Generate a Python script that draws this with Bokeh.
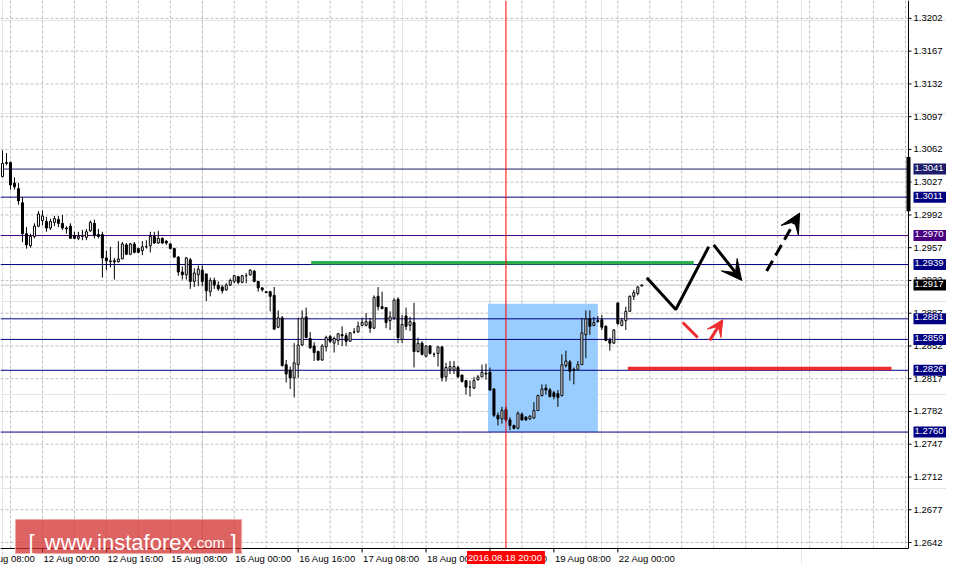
import math
from bokeh.plotting import figure
from bokeh.models import Range1d, Label, Arrow, VeeHead, ColumnDataSource
from bokeh.embed import file_html
from bokeh.resources import INLINE

# ---------------- data: GBPUSD H1 candles (bar index = hour bar) ----------------
open_ = [1.3033, 1.3047, 1.3048, 1.3026, 1.3020, 1.3005, 1.2972, 1.2959, 1.2969, 1.2980,
         1.2986, 1.2985, 1.2978, 1.2984, 1.2987, 1.2983, 1.2978, 1.2980, 1.2970, 1.2967,
         1.2969, 1.2968, 1.2975, 1.2983, 1.2971, 1.2971, 1.2946, 1.2942, 1.2943, 1.2942,
         1.2945, 1.2960, 1.2950, 1.2961, 1.2956, 1.2954, 1.2958, 1.2959, 1.2969, 1.2962,
         1.2967, 1.2964, 1.2961, 1.2956, 1.2947, 1.2931, 1.2928, 1.2944, 1.2921, 1.2928,
         1.2933, 1.2929, 1.2910, 1.2922, 1.2917, 1.2915, 1.2912, 1.2917, 1.2921, 1.2926,
         1.2920, 1.2927, 1.2928, 1.2932, 1.2921, 1.2914, 1.2910, 1.2910, 1.2906, 1.2872,
         1.2882, 1.2832, 1.2826, 1.2818, 1.2832, 1.2853, 1.2883, 1.2860, 1.2852, 1.2846,
         1.2837, 1.2851, 1.2862, 1.2855, 1.2858, 1.2864, 1.2863, 1.2857, 1.2867, 1.2867,
         1.2874, 1.2874, 1.2878, 1.2871, 1.2905, 1.2894, 1.2893, 1.2879, 1.2882, 1.2902,
         1.2859, 1.2884, 1.2874, 1.2877, 1.2846, 1.2855, 1.2841, 1.2852, 1.2843, 1.2844,
         1.2851, 1.2819, 1.2827, 1.2826, 1.2829, 1.2821, 1.2815, 1.2808, 1.2807, 1.2816,
         1.2819, 1.2822, 1.2824, 1.2806, 1.2778, 1.2774, 1.2784, 1.2773, 1.2767, 1.2764,
         1.2779, 1.2776, 1.2774, 1.2775, 1.2783, 1.2799, 1.2807, 1.2805, 1.2802, 1.2801,
         1.2799, 1.2831, 1.2835, 1.2827, 1.2827, 1.2832, 1.2864, 1.2881, 1.2874, 1.2879,
         1.2880, 1.2873, 1.2858, 1.2855, 1.2898, 1.2874, 1.2879, 1.2889, 1.2905, 1.2908,
         1.2916]
high = [1.3061, 1.3058, 1.3049, 1.3032, 1.3026, 1.3011, 1.2979, 1.2972, 1.2983, 1.2996,
        1.2997, 1.2990, 1.2988, 1.2991, 1.2991, 1.2992, 1.2980, 1.2983, 1.2974, 1.2974,
        1.2976, 1.2977, 1.2986, 1.2987, 1.2977, 1.2974, 1.2954, 1.2958, 1.2946, 1.2964,
        1.2963, 1.2962, 1.2962, 1.2963, 1.2957, 1.2964, 1.2965, 1.2974, 1.2974, 1.2975,
        1.2968, 1.2965, 1.2962, 1.2957, 1.2948, 1.2937, 1.2947, 1.2946, 1.2935, 1.2938,
        1.2938, 1.2929, 1.2925, 1.2925, 1.2921, 1.2917, 1.2919, 1.2924, 1.2928, 1.2927,
        1.2928, 1.2930, 1.2934, 1.2933, 1.2921, 1.2915, 1.2910, 1.2911, 1.2915, 1.2890,
        1.2884, 1.2837, 1.2830, 1.2855, 1.2882, 1.2890, 1.2893, 1.2867, 1.2856, 1.2847,
        1.2854, 1.2863, 1.2864, 1.2862, 1.2866, 1.2873, 1.2866, 1.2867, 1.2871, 1.2878,
        1.2882, 1.2887, 1.2882, 1.2906, 1.2915, 1.2910, 1.2893, 1.2889, 1.2903, 1.2904,
        1.2885, 1.2893, 1.2883, 1.2898, 1.2861, 1.2857, 1.2853, 1.2853, 1.2845, 1.2852,
        1.2852, 1.2834, 1.2836, 1.2836, 1.2831, 1.2821, 1.2815, 1.2815, 1.2819, 1.2821,
        1.2832, 1.2833, 1.2829, 1.2807, 1.2781, 1.2787, 1.2787, 1.2776, 1.2768, 1.2782,
        1.2781, 1.2777, 1.2778, 1.2792, 1.2800, 1.2811, 1.2811, 1.2807, 1.2804, 1.2805,
        1.2843, 1.2847, 1.2837, 1.2829, 1.2836, 1.2882, 1.2890, 1.2890, 1.2883, 1.2884,
        1.2885, 1.2874, 1.2861, 1.2870, 1.2898, 1.2882, 1.2894, 1.2906, 1.2912, 1.2916,
        1.2918]
low = [1.3032, 1.3045, 1.3019, 1.3019, 1.3003, 1.2963, 1.2956, 1.2957, 1.2967, 1.2979,
       1.2981, 1.2974, 1.2976, 1.2980, 1.2979, 1.2976, 1.2972, 1.2967, 1.2966, 1.2965,
       1.2965, 1.2965, 1.2974, 1.2967, 1.2967, 1.2925, 1.2933, 1.2936, 1.2923, 1.2941,
       1.2945, 1.2949, 1.2949, 1.2951, 1.2951, 1.2949, 1.2956, 1.2952, 1.2961, 1.2961,
       1.2961, 1.2960, 1.2955, 1.2946, 1.2927, 1.2923, 1.2923, 1.2913, 1.2915, 1.2916,
       1.2916, 1.2900, 1.2905, 1.2913, 1.2911, 1.2908, 1.2911, 1.2916, 1.2919, 1.2918,
       1.2919, 1.2919, 1.2927, 1.2920, 1.2910, 1.2910, 1.2909, 1.2889, 1.2869, 1.2871,
       1.2830, 1.2813, 1.2806, 1.2797, 1.2818, 1.2852, 1.2860, 1.2849, 1.2836, 1.2836,
       1.2836, 1.2846, 1.2855, 1.2845, 1.2853, 1.2852, 1.2852, 1.2857, 1.2865, 1.2866,
       1.2873, 1.2873, 1.2866, 1.2870, 1.2890, 1.2891, 1.2871, 1.2869, 1.2880, 1.2855,
       1.2855, 1.2869, 1.2868, 1.2829, 1.2845, 1.2842, 1.2840, 1.2843, 1.2840, 1.2830,
       1.2814, 1.2814, 1.2822, 1.2822, 1.2818, 1.2813, 1.2800, 1.2798, 1.2806, 1.2815,
       1.2819, 1.2816, 1.2804, 1.2776, 1.2767, 1.2769, 1.2771, 1.2762, 1.2763, 1.2763,
       1.2772, 1.2772, 1.2773, 1.2774, 1.2783, 1.2798, 1.2800, 1.2797, 1.2795, 1.2787,
       1.2798, 1.2829, 1.2815, 1.2811, 1.2826, 1.2832, 1.2839, 1.2864, 1.2873, 1.2877,
       1.2869, 1.2857, 1.2847, 1.2854, 1.2874, 1.2873, 1.2869, 1.2889, 1.2901, 1.2906,
       1.2916]
close = [1.3047, 1.3048, 1.3024, 1.3022, 1.3007, 1.2972, 1.2960, 1.2969, 1.2980, 1.2993,
         1.2991, 1.2978, 1.2985, 1.2988, 1.2983, 1.2978, 1.2977, 1.2967, 1.2967, 1.2969,
         1.2969, 1.2974, 1.2984, 1.2970, 1.2969, 1.2946, 1.2943, 1.2943, 1.2942, 1.2945,
         1.2961, 1.2950, 1.2961, 1.2952, 1.2952, 1.2958, 1.2958, 1.2969, 1.2962, 1.2967,
         1.2962, 1.2962, 1.2956, 1.2947, 1.2931, 1.2928, 1.2946, 1.2921, 1.2930, 1.2934,
         1.2921, 1.2911, 1.2922, 1.2917, 1.2913, 1.2911, 1.2917, 1.2922, 1.2927, 1.2920,
         1.2927, 1.2927, 1.2933, 1.2921, 1.2914, 1.2912, 1.2909, 1.2905, 1.2870, 1.2882,
         1.2831, 1.2822, 1.2818, 1.2834, 1.2853, 1.2882, 1.2861, 1.2850, 1.2845, 1.2837,
         1.2852, 1.2861, 1.2857, 1.2860, 1.2865, 1.2863, 1.2857, 1.2866, 1.2867, 1.2873,
         1.2877, 1.2878, 1.2871, 1.2904, 1.2894, 1.2892, 1.2877, 1.2883, 1.2901, 1.2861,
         1.2875, 1.2873, 1.2878, 1.2846, 1.2855, 1.2843, 1.2852, 1.2844, 1.2843, 1.2851,
         1.2818, 1.2829, 1.2830, 1.2830, 1.2819, 1.2814, 1.2808, 1.2808, 1.2815, 1.2819,
         1.2824, 1.2823, 1.2805, 1.2778, 1.2774, 1.2783, 1.2773, 1.2767, 1.2764, 1.2780,
         1.2773, 1.2773, 1.2777, 1.2783, 1.2799, 1.2806, 1.2805, 1.2798, 1.2798, 1.2797,
         1.2832, 1.2836, 1.2825, 1.2826, 1.2832, 1.2866, 1.2881, 1.2873, 1.2877, 1.2878,
         1.2872, 1.2858, 1.2855, 1.2869, 1.2876, 1.2879, 1.2889, 1.2905, 1.2909, 1.2915,
         1.2917]

# time axis labels (bar index -> label)
time_tick_bars = [-6, 10, 26, 42, 58, 74, 90, 106, 122, 138, 154]
time_tick_labels = ["11 Aug 08:00", "12 Aug 00:00", "12 Aug 16:00", "15 Aug 08:00",
                    "16 Aug 00:00", "16 Aug 16:00", "17 Aug 08:00", "18 Aug 00:00",
                    "18 Aug 16:00", "19 Aug 08:00", "22 Aug 00:00"]
price_ticks = [1.2642, 1.2677, 1.2712, 1.2747, 1.2782, 1.2817, 1.2852, 1.2887,
               1.2922, 1.2957, 1.2992, 1.3027, 1.3062, 1.3097, 1.3132, 1.3167, 1.3202]
grid_bars = list(range(2, 227, 8))

# horizontal levels
level_values = [1.3041, 1.3011, 1.2970, 1.2939, 1.2881, 1.2859, 1.2826, 1.2760]
level_colors = ["#1c1c6a", "#000080", "#4b0082", "#000080", "#000080", "#000080",
                "#000080", "#000080"]
last_price = 1.2917

# markup
marker_bar = 126
marker_label = "2016.08.18 20:00"
zone_bars = [121.5, 149.0]
zone_prices = [1.2760, 1.2897]
green_bars = [77.25, 173.0]
green_price = 1.2941
red_bars = [156.5, 222.5]
red_price = 1.2828
zig_bars = [161.25, 168.5, 176.75]
zig_prices = [1.2925, 1.2891, 1.2958]
down_arrow = [(178.0, 1.2960), (185.0, 1.2922)]
up_dash_arrow = [(191.25, 1.2932), (199.5, 1.2994)]
red_dash = [(170.25, 1.2877), (174.0, 1.2861)]
red_arrow = [(177.0, 1.2858), (180.25, 1.2880)]
edge_bar = [1.3054, 1.2996]

# ---------------- layout ----------------
CANVAS_W, CANVAS_H = 946, 564
PLOT_W, PLOT_H = 908, 548          # price/time area inside the canvas (px)
x_lo, x_hi = -0.5, 226.75          # bars shown in the price area
y_lo, y_hi = 1.26356, 1.32211      # prices shown in the price area
x_canvas_hi = x_lo + (x_hi - x_lo) * CANVAS_W / PLOT_W
y_canvas_lo = y_hi - (y_hi - y_lo) * CANVAS_H / PLOT_H

FONT = "Liberation Sans"
FS = "9.5px"
RED = "#ee2b2e"

p = figure(width=CANVAS_W, height=CANVAS_H,
           x_range=Range1d(x_lo, x_canvas_hi), y_range=Range1d(y_canvas_lo, y_hi),
           x_axis_location=None, y_axis_location=None,
           output_backend="svg", toolbar_location=None, min_border=0,
           background_fill_color="white", border_fill_color="white", outline_line_color=None)

# dotted grid
p.segment(x0=grid_bars, y0=[y_lo] * len(grid_bars), x1=grid_bars, y1=[y_hi] * len(grid_bars),
          line_color="#c0c0c0", line_dash="3 2", line_width=1)
p.segment(x0=[x_lo] * len(price_ticks), y0=price_ticks, x1=[x_hi] * len(price_ticks),
          y1=price_ticks, line_color="#c0c0c0", line_dash="3 2", line_width=1)

# blue zone
p.quad(left=[zone_bars[0]], right=[zone_bars[1]], bottom=[zone_prices[0]], top=[zone_prices[1]],
       fill_color="#99ccff", line_color=None)

# levels and last-price line
p.segment(x0=[x_lo] * len(level_values), y0=level_values, x1=[x_hi] * len(level_values),
          y1=level_values, line_color=level_colors, line_width=1)
p.segment(x0=[x_lo], y0=[last_price], x1=[x_hi], y1=[last_price], line_color="#c0c0c0", line_width=1)

# candles
bars = list(range(len(open_)))
src = ColumnDataSource(dict(
    x=bars, o=open_, h=high, l=low, c=close,
    top=[max(a, b) for a, b in zip(open_, close)],
    bot=[min(a, b) for a, b in zip(open_, close)],
    fill=["white" if c >= o else "black" for o, c in zip(open_, close)],
))
p.segment(x0="x", y0="l", x1="x", y1="h", source=src, line_color="black", line_width=1)
p.vbar(x="x", top="top", bottom="bot", width=0.5, source=src,
       fill_color="fill", line_color="black", line_width=1)

# green / red horizontal markers
p.line(x=green_bars, y=[green_price, green_price], line_color="#2eb04e", line_width=3.5)
p.line(x=red_bars, y=[red_price, red_price], line_color=RED, line_width=3.5)

# zigzag and arrows
p.line(x=zig_bars, y=zig_prices, line_color="black", line_width=3)
p.add_layout(Arrow(end=VeeHead(size=20, fill_color="black", line_color="black"),
                   x_start=down_arrow[0][0], y_start=down_arrow[0][1],
                   x_end=down_arrow[1][0], y_end=down_arrow[1][1],
                   line_color="black", line_width=3))
p.add_layout(Arrow(end=VeeHead(size=20, fill_color="black", line_color="black"),
                   x_start=up_dash_arrow[0][0], y_start=up_dash_arrow[0][1],
                   x_end=up_dash_arrow[1][0], y_end=up_dash_arrow[1][1],
                   line_color="black", line_width=3, line_dash="12 6"))
p.line(x=[red_dash[0][0], red_dash[1][0]], y=[red_dash[0][1], red_dash[1][1]],
       line_color=RED, line_width=3)
p.add_layout(Arrow(end=VeeHead(size=16, fill_color=RED, line_color=RED),
                   x_start=red_arrow[0][0], y_start=red_arrow[0][1],
                   x_end=red_arrow[1][0], y_end=red_arrow[1][1],
                   line_color=RED, line_width=3))

# vertical time marker
p.segment(x0=[marker_bar], y0=[y_lo], x1=[marker_bar], y1=[y_hi], line_color="red", line_width=1)

# ---------------- axes (price scale on the right, time scale below) ----------------
p.segment(x0=[x_hi, x_lo], y0=[y_lo, y_lo], x1=[x_hi, x_hi], y1=[y_hi, y_lo],
          line_color="black", line_width=1)
p.line(x=[x_hi, x_hi], y=edge_bar, line_color="black", line_width=4)
p.ray(x=[x_hi] * len(price_ticks), y=price_ticks, length=3, length_units="screen",
      angle=0, line_color="black", line_width=1)
vis_bars = [b for b in time_tick_bars if b >= x_lo]
p.ray(x=vis_bars, y=[y_lo] * len(vis_bars), length=4, length_units="screen",
      angle=-math.pi / 2, line_color="black", line_width=1)

for v in price_ticks:
    p.add_layout(Label(x=x_hi, y=v, x_offset=5, text="%.4f" % v, text_align="left",
                       text_baseline="middle", text_color="black", text_font=FONT,
                       text_font_size=FS))
for b, s in zip(time_tick_bars, time_tick_labels):
    p.add_layout(Label(x=b, y=y_lo, x_offset=1, y_offset=-10, text=s, text_align="left",
                       text_baseline="middle", text_color="black", text_font=FONT,
                       text_font_size=FS))

# level labels on the price scale
for v, col in zip(level_values + [last_price], level_colors + ["black"]):
    p.add_layout(Label(x=x_hi, y=v, x_offset=5, text="%.4f" % v, text_align="left",
                       text_baseline="middle", text_color="white", text_font=FONT,
                       text_font_size=FS, background_fill_color=col, padding=(1, 4, 1, 4)))

# highlighted time label
p.add_layout(Label(x=marker_bar, y=y_lo, y_offset=-10, text=marker_label, text_align="center",
                   text_baseline="middle", text_color="white", text_font=FONT,
                   text_font_size=FS, background_fill_color="#ff0000", padding=(1, 3, 1, 3)))

# watermark: box, then the visible text pieces
p.add_layout(Label(x=x_lo, y=y_lo, x_offset=15, y_offset=12, text="[  www.instaforex.com  ]",
                   text_align="left", text_baseline="middle", text_color="#de6363",
                   text_alpha=0.02, text_font=FONT, text_font_size="20.3px",
                   background_fill_color="#d32f2f", background_fill_alpha=0.75,
                   border_line_color="#eeaaaa", padding=(9, 3, 9, 3)))
for txt, dx, fs in [("[", 28, "22px"), ("www.instaforex", 44, "22px"),
                    (".com", 192, "15px"), ("]", 230, "22px")]:
    p.add_layout(Label(x=x_lo, y=y_lo, x_offset=dx, y_offset=6, text=txt, text_align="left",
                       text_baseline="alphabetic", text_color="white", text_font=FONT,
                       text_font_size=fs))

open("out.html", "w").write(file_html(p, INLINE))
